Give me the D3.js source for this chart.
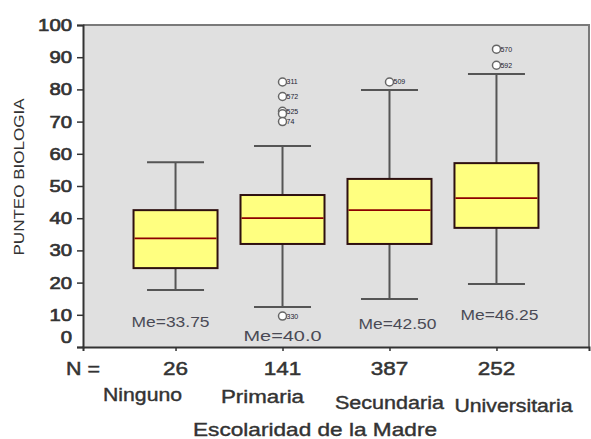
<!DOCTYPE html>
<html>
<head>
<meta charset="utf-8">
<script src="https://cdn.jsdelivr.net/npm/d3@7"></script>
<style>
  html, body { margin: 0; padding: 0; background: #fff; }
  svg { display: block; font-family: "Liberation Sans", Arial, sans-serif; }
</style>
</head>
<body>
<svg id="chart" width="591" height="439"></svg>
<script>
// Boxplot: PUNTEO BIOLOGIA by Escolaridad de la Madre
const categories = ["Ninguno", "Primaria", "Secundaria", "Universitaria"];
const counts = [26, 141, 387, 252];
const lowerWhisker = [17.7, 12.4, 14.9, 19.6];
const q1 = [24.5, 32.0, 32.0, 37.0];
const medians = [33.75, 40.0, 42.50, 46.25];
const medianLabels = ["Me=33.75", "Me=40.0", "Me=42.50", "Me=46.25"];
const q3 = [42.5, 47.2, 52.2, 57.1];
const upperWhisker = [57.4, 62.4, 79.8, 84.8];

// outliers: category, value, case id (coincident points share one id)
const outlierCategory = ["Primaria", "Primaria", "Primaria", "Primaria", "Primaria", "Primaria", "Secundaria", "Universitaria", "Universitaria"];
const outlierValues   = [82.3, 77.8, 73.2, 72.4, 70.0, 9.6, 82.3, 92.5, 87.5];
const outlierIds      = ["311", "572", "525", "", "74", "330", "509", "570", "592"];

const yTicks = [0, 10, 20, 30, 40, 50, 60, 70, 80, 90, 100];

const svg = d3.select("#chart");
const plot = { left: 83, right: 589, top: 25, bottom: 347 };

const y = d3.scaleLinear().domain([0, 100]).range([plot.bottom, plot.top]);
const x = d3.scalePoint().domain(categories).range([plot.left, plot.right]).padding(0.865);

const textColor = "#333";

// slightly heavier glyphs for the main texts
function heavy(sel, w) {
  sel.attr("stroke", textColor).attr("stroke-width", w).attr("paint-order", "stroke");
}

// plot background
svg.append("rect")
  .attr("x", plot.left).attr("y", plot.top)
  .attr("width", plot.right - plot.left).attr("height", plot.bottom - plot.top)
  .attr("fill", "#e0e0e0");

// top and right frame
svg.append("path")
  .attr("d", `M${plot.left},${plot.top}H${plot.right}V${plot.bottom}`)
  .attr("fill", "none").attr("stroke", "#7a7a7a").attr("stroke-width", 2);

// y axis
const yAxis = svg.append("g")
  .attr("transform", `translate(${plot.left},0)`)
  .call(d3.axisLeft(y).tickValues(yTicks).tickSize(6).tickPadding(5));
yAxis.select(".domain").attr("stroke", "#333").attr("stroke-width", 2);
yAxis.selectAll(".tick line").attr("stroke", "#333").attr("stroke-width", 1.5);
yAxis.selectAll(".tick text")
  .attr("fill", textColor)
  .attr("font-size", 17)
  .attr("font-family", "'Liberation Sans', Arial, sans-serif")
  .attr("textLength", d => String(d).length * 11.3)
  .attr("lengthAdjust", "spacingAndGlyphs")
  .attr("dy", d => d === 0 ? "-0.28em" : "0.32em")
  .call(heavy, 0.7);

// x axis
const xAxis = svg.append("g")
  .attr("transform", `translate(0,${plot.bottom})`)
  .call(d3.axisBottom(x).tickSize(4).tickFormat(""));
xAxis.select(".domain").attr("stroke", "#333").attr("stroke-width", 2);
xAxis.selectAll(".tick line").attr("stroke", "#333").attr("stroke-width", 1.5);

const boxW = 84, capW = 57;
const boxes = categories.map((c, i) => ({
  c, lo: lowerWhisker[i], q1: q1[i], med: medians[i], q3: q3[i], hi: upperWhisker[i],
  n: counts[i], label: medianLabels[i]
}));

const g = svg.append("g");

// whiskers
g.selectAll(".whisker").data(boxes).join("line")
  .attr("x1", d => x(d.c)).attr("x2", d => x(d.c))
  .attr("y1", d => y(d.lo)).attr("y2", d => y(d.hi))
  .attr("stroke", "#555").attr("stroke-width", 2);
g.selectAll(".capHi").data(boxes).join("line")
  .attr("x1", d => x(d.c) - capW / 2).attr("x2", d => x(d.c) + capW / 2)
  .attr("y1", d => y(d.hi)).attr("y2", d => y(d.hi))
  .attr("stroke", "#555").attr("stroke-width", 2);
g.selectAll(".capLo").data(boxes).join("line")
  .attr("x1", d => x(d.c) - capW / 2).attr("x2", d => x(d.c) + capW / 2)
  .attr("y1", d => y(d.lo)).attr("y2", d => y(d.lo))
  .attr("stroke", "#555").attr("stroke-width", 2);

// boxes
g.selectAll(".box").data(boxes).join("rect")
  .attr("x", d => x(d.c) - boxW / 2).attr("width", boxW)
  .attr("y", d => y(d.q3)).attr("height", d => y(d.q1) - y(d.q3))
  .attr("fill", "#ffff80").attr("stroke", "#2e1010").attr("stroke-width", 2);

// medians
g.selectAll(".median").data(boxes).join("line")
  .attr("x1", d => x(d.c) - boxW / 2 + 1).attr("x2", d => x(d.c) + boxW / 2 - 1)
  .attr("y1", d => y(d.med)).attr("y2", d => y(d.med))
  .attr("stroke", "#8e0000").attr("stroke-width", 1.8);

// outliers
const outs = outlierValues.map((v, i) => ({ c: outlierCategory[i], v, id: outlierIds[i] }));
g.selectAll(".outId").data(outs.filter(d => d.id)).join("text")
  .attr("x", d => x(d.c) + 4).attr("y", d => y(d.v) + 2.5)
  .attr("font-size", 7).attr("fill", "#223")
  .text(d => d.id);
g.selectAll(".outlier").data(outs).join("circle")
  .attr("cx", d => x(d.c)).attr("cy", d => y(d.v)).attr("r", 4)
  .attr("fill", "#fff").attr("stroke", "#666").attr("stroke-width", 1.5);

// median value labels below each whisker
const lowest = boxes.map(d => Math.min(d.lo, ...outs.filter(o => o.c === d.c).map(o => o.v)));
const meOffset = [37, 25, 30, 36];
const meShift = [-5, 0, 8, 3];
g.selectAll(".meLabel").data(boxes).join("text")
  .attr("x", (d, i) => x(d.c) + meShift[i])
  .attr("y", (d, i) => y(lowest[i]) + meOffset[i])
  .attr("text-anchor", "middle")
  .attr("font-size", 14).attr("fill", "#4a4a55")
  .attr("textLength", 78).attr("lengthAdjust", "spacingAndGlyphs")
  .text(d => d.label);

// N row
svg.append("text")
  .attr("x", 66).attr("y", 375)
  .attr("font-size", 19).attr("fill", textColor)
  .attr("textLength", 34).attr("lengthAdjust", "spacingAndGlyphs")
  .text("N =")
  .call(heavy, 0.5);
svg.selectAll(".count").data(boxes).join("text")
  .attr("x", d => x(d.c)).attr("y", 375)
  .attr("text-anchor", "middle")
  .attr("font-size", 19).attr("fill", textColor)
  .attr("textLength", d => String(d.n).length * 12.5).attr("lengthAdjust", "spacingAndGlyphs")
  .text(d => d.n)
  .call(heavy, 0.5);

// category names
const catShift = [-33, -20, 0, 17];
const catBase = [401, 403, 409, 412];
const catWidth = [79, 83, 109, 118];
svg.selectAll(".cat").data(categories).join("text")
  .attr("x", (d, i) => x(d) + catShift[i]).attr("y", (d, i) => catBase[i])
  .attr("text-anchor", "middle")
  .attr("font-size", 18).attr("fill", textColor)
  .attr("textLength", (d, i) => catWidth[i]).attr("lengthAdjust", "spacingAndGlyphs")
  .text(d => d)
  .call(heavy, 0.4);

// axis titles
svg.append("text")
  .attr("x", 315).attr("y", 436)
  .attr("text-anchor", "middle")
  .attr("font-size", 19).attr("fill", textColor)
  .attr("textLength", 244).attr("lengthAdjust", "spacingAndGlyphs")
  .text("Escolaridad de la Madre")
  .call(heavy, 0.4);

svg.append("text")
  .attr("transform", "translate(24,177) rotate(-90)")
  .attr("text-anchor", "middle")
  .attr("font-size", 15).attr("fill", textColor)
  .attr("textLength", 157).attr("lengthAdjust", "spacingAndGlyphs")
  .text("PUNTEO BIOLOGIA");
</script>
</body>
</html>
